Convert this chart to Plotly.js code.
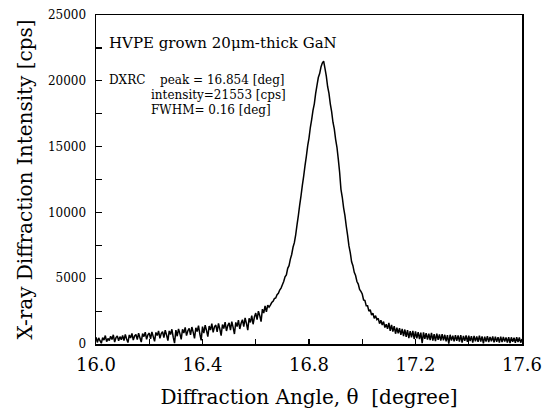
<!DOCTYPE html>
<html>
<head>
<meta charset="utf-8">
<script src="https://cdn.plot.ly/plotly-3.0.1.min.js"></script>
<style>html,body{margin:0;padding:0;background:#fff;}#chart{width:551px;height:409px;}</style>
</head>
<body>
<div id="chart"></div>
<script>
// Scan: diffraction angle theta [degree], start and step of the recorded scan
const scanStart = 16.0;
const scanStep = 0.005;
// X-ray diffraction intensity [cps], one value per scan step (16.000 ... 17.600)
const intensity = [
520,120,460,250,60,480,300,640,180,420,
260,590,340,700,150,480,620,240,560,330,
650,260,720,380,110,690,450,800,300,610,
720,330,820,480,150,790,560,900,360,700,
830,400,920,560,200,880,640,1000,430,790,
940,480,1050,680,260,990,720,1120,520,60,
1060,590,1150,790,350,1120,830,1260,640,1010,
1180,700,1290,900,420,1230,950,1390,760,280,
1320,820,1430,1030,560,1370,1060,1540,880,1300,
1440,930,1560,1140,640,1480,1170,1660,990,1400,
1600,1050,1700,1270,760,1640,1320,1820,1140,1580,
1850,1320,1980,1560,1050,1960,1640,2160,1500,2050,
2350,1850,2500,2150,1700,2650,2350,2900,2450,2950,
2800,2950,3150,3250,3450,3500,3750,3850,4100,4250,
4500,4750,5100,5250,5750,5950,6450,6800,7350,7700,
8300,9050,9750,10550,11250,12050,12750,13550,14250,15050,
15650,16450,17050,17750,18250,19050,19650,20250,20550,21050,
21350,21500,20950,20350,19550,19050,18250,17650,16850,16350,
15550,14950,14050,13050,11750,11150,10350,9750,8950,8250,
7450,6950,6250,5950,5450,5200,4750,4550,4150,4000,
3800,3350,3300,2900,2900,2500,2600,2200,2350,1950,
2150,1850,1950,1550,1800,1450,1700,1250,1500,1150,
1600,1000,1450,950,1350,780,1250,820,1200,700,
1150,600,1100,550,1050,450,980,500,1000,380,
950,420,900,380,860,60,880,400,820,330,
780,300,840,260,740,220,790,320,720,250,
740,280,700,200,680,20,700,260,640,200,
680,240,650,180,680,100,620,240,650,160,
640,220,600,100,620,200,580,160,640,180,
580,40,560,180,600,150,540,200,570,120,
560,160,520,100,560,140,530,180,500,110,
520,60,510,160,480,90,520,140,500,100,
380];
const xTickVals = [16.0, 16.4, 16.8, 17.2, 17.6];
const xTickText = ["16.0", "16.4", "16.8", "17.2", "17.6"];
const yTickVals = [0, 5000, 10000, 15000, 20000, 25000];
const yTickText = ["0", "5000", "10000", "15000", "20000", "25000"];
const titleText = "HVPE grown 20\u03bcm-thick GaN";
const infoLabel = "DXRC";
const infoLines = ["peak = 16.854 [deg]", "intensity=21553 [cps]", "FWHM= 0.16 [deg]"];

const serif = "DejaVu Serif, Liberation Serif, serif";

const trace = {
  x0: scanStart, dx: scanStep, y: intensity, type: "scatter", mode: "lines",
  line: {color: "#000", width: 1.5, simplify: false}, hoverinfo: "skip"
};

const layout = {
  width: 551, height: 409,
  margin: {l: 96, r: 29, t: 15, b: 65},
  paper_bgcolor: "#fff", plot_bgcolor: "#fff",
  showlegend: false,
  font: {family: serif, color: "#000"},
  xaxis: {
    range: [16.0, 17.6], tickmode: "array", tickvals: xTickVals, ticktext: xTickText,
    ticks: "inside", ticklen: 5, tickwidth: 1.2, tickcolor: "#000",
    minor: {dtick: 0.2, tick0: 16.0, ticks: "inside", ticklen: 5, tickwidth: 1.2, tickcolor: "#000", showgrid: false},
    showline: true, linecolor: "#000", linewidth: 1.5, mirror: true,
    showgrid: false, zeroline: false, ticklabelstandoff: 4,
    tickfont: {family: serif, size: 18, color: "#000"},
    title: {text: "Diffraction Angle, \u03b8  [degree]", font: {family: serif, size: 20, color: "#000"}, standoff: 18}
  },
  yaxis: {
    range: [0, 25000], tickmode: "array", tickvals: yTickVals, ticktext: yTickText,
    ticks: "inside", ticklen: 6, tickwidth: 1.2, tickcolor: "#000",
    minor: {dtick: 2500, tick0: 0, ticks: "inside", ticklen: 6, tickwidth: 1.2, tickcolor: "#000", showgrid: false},
    showline: true, linecolor: "#000", linewidth: 1.5, mirror: true,
    showgrid: false, zeroline: false, ticklabelstandoff: 6,
    tickfont: {family: serif, size: 12, color: "#000"},
    title: {text: "X-ray Diffraction Intensity [cps]", font: {family: serif, size: 20, color: "#000"}, standoff: 10}
  },
  annotations: [
    {xref: "paper", yref: "paper", x: 0.025, y: 0.915, xanchor: "left", yanchor: "middle", showarrow: false,
     text: titleText, font: {family: serif, size: 15, color: "#000"}},
    {xref: "paper", yref: "paper", x: 0.025, y: 0.802, xanchor: "left", yanchor: "middle", showarrow: false,
     text: infoLabel, font: {family: serif, size: 12, color: "#000"}},
    {xref: "paper", yref: "paper", x: 0.145, y: 0.802, xanchor: "left", yanchor: "middle", showarrow: false,
     text: infoLines[0], font: {family: serif, size: 12, color: "#000"}},
    {xref: "paper", yref: "paper", x: 0.124, y: 0.757, xanchor: "left", yanchor: "middle", showarrow: false,
     text: infoLines[1], font: {family: serif, size: 12, color: "#000"}},
    {xref: "paper", yref: "paper", x: 0.124, y: 0.711, xanchor: "left", yanchor: "middle", showarrow: false,
     text: infoLines[2], font: {family: serif, size: 12, color: "#000"}}
  ]
};

Plotly.newPlot("chart", [trace], layout, {displayModeBar: false, staticPlot: true});
</script>
</body>
</html>
